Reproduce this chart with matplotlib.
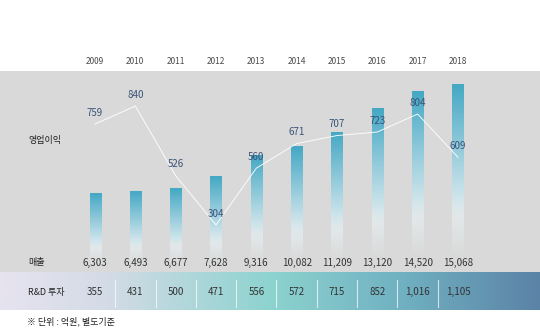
import numpy as np
import matplotlib
matplotlib.use("Agg")
import matplotlib.pyplot as plt
from matplotlib.colors import LinearSegmentedColormap, to_rgba
import matplotlib.transforms as mtransforms

plt.rcParams['font.family'] = ['Noto Sans CJK KR', 'DejaVu Sans']

years = ['2009', '2010', '2011', '2012', '2013', '2014', '2015', '2016', '2017', '2018']
sales = [6303, 6493, 6677, 7628, 9316, 10082, 11209, 13120, 14520, 15068]
op_profit = [759, 840, 526, 304, 560, 671, 707, 723, 804, 609]
rnd = [355, 431, 500, 471, 556, 572, 715, 852, 1016, 1105]

W, H = 540, 333
fig = plt.figure(figsize=(W / 100, H / 100), dpi=100)
fig.patch.set_facecolor('white')

x = np.arange(len(years))
xlim = (-2.356, 11.034)

# main grey panel with sales bars
ax = fig.add_axes([0, (H - 272) / H, 1, 201 / H])
ax.set_facecolor('#d9d9d9')
for s in ax.spines.values():
    s.set_visible(False)
ax.set_xticks([])
ax.set_yticks([])

# vertical fade for the bars
n = 256
t = np.linspace(0, 1, n)
top_c = np.array(to_rgba('#44a8c4'))
mid_c = np.array(to_rgba('#acd6e2'))
bot_c = np.array(to_rgba('#e6eef0'))
grad = np.zeros((n, 1, 4))
for i, tt in enumerate(t):
    if tt < 0.45:
        c = top_c + (mid_c - top_c) * (tt / 0.45)
    else:
        c = mid_c + (bot_c - mid_c) * min((tt - 0.45) / 0.25, 1)
    a = 1.0 if tt < 0.62 else max(0.0, 1 - (tt - 0.62) / 0.3)
    grad[i, 0, :3] = c[:3]
    grad[i, 0, 3] = a

bw = 0.273
for xi, v in zip(x, sales):
    ax.imshow(grad, extent=(xi - bw / 2, xi + bw / 2, 0, v), aspect='auto',
              interpolation='bilinear', zorder=2)
ax.set_xlim(*xlim)
ax.set_ylim(0, 16130)

# operating profit line
ax2 = ax.twinx()
ax2.set_xlim(*xlim)
ax2.set_ylim(92, 998)
ax2.plot(x, op_profit, color='white', lw=0.7, alpha=0.9, zorder=3)
for s in ax2.spines.values():
    s.set_visible(False)
ax2.set_yticks([])
for xi, v in zip(x, op_profit):
    ax2.annotate(f'{v:,}', (xi, v), xytext=(0, 4.5), textcoords='offset points',
                 ha='center', va='bottom', fontsize=7, color='#3a5378', zorder=4)

# year labels above the panel
trans_top = mtransforms.blended_transform_factory(ax.transData, fig.transFigure)
for xi, yr in zip(x, years):
    fig.text(xi, (H - 62) / H, yr, transform=trans_top, ha='center', va='center',
             fontsize=6, color='#4a4a4a')

# sales values inside the panel
trans_ax = mtransforms.blended_transform_factory(ax.transData, ax.transAxes)
for xi, v in zip(x, sales):
    ax.text(xi, (272 - 263) / 201, f'{v:,}', transform=trans_ax, ha='center',
            va='center', fontsize=7, color='#333333')

# R&D band
axb = fig.add_axes([0, (H - 310) / H, 1, 38 / H])
band_cmap = LinearSegmentedColormap.from_list(
    'band', [(0.0, '#e6e3ef'), (0.2, '#d3dbe6'), (0.5, '#8dd3cf'),
             (0.75, '#70b0c1'), (1.0, '#5b83a6')])
axb.imshow(np.linspace(0, 1, 512)[None, :], cmap=band_cmap, aspect='auto',
           extent=(xlim[0], xlim[1], 0, 1), interpolation='bilinear')
axb.set_xlim(*xlim)
axb.set_ylim(0, 1)
axb.axis('off')
for xi in x[:-1]:
    axb.plot([xi + 0.5, xi + 0.5], [0.08, 0.78], color='white', lw=0.8, alpha=0.7)
for xi, v in zip(x, rnd):
    axb.text(xi, 0.48, f'{v:,}', ha='center', va='center', fontsize=7, color='#333333')

# row labels
fig.text(28 / W, 1 - 140 / H, '영업이익', ha='left', va='center', fontsize=6.5, color='#222222')
fig.text(28 / W, 1 - 262 / H, '매출', ha='left', va='center', fontsize=6.5, color='#222222')
fig.text(28 / W, 1 - 292 / H, 'R&D 투자', ha='left', va='center', fontsize=6.5, color='#222222')
fig.text(27 / W, 1 - 321 / H, '※ 단위 : 억원, 별도기준', ha='left', va='center',
         fontsize=6.5, color='#222222')

fig.savefig('out.png', dpi=100, facecolor='white')
